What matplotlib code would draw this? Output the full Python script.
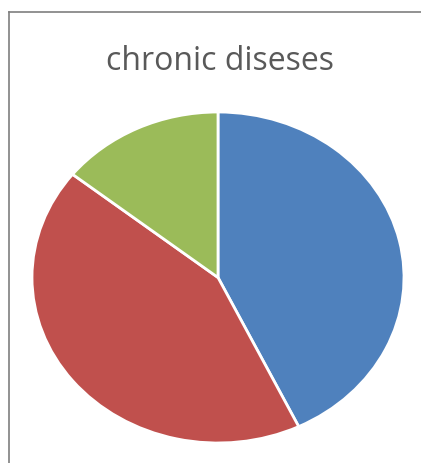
import matplotlib
matplotlib.use("Agg")
import matplotlib.pyplot as plt
from matplotlib.lines import Line2D

# chart data
categories = ["A", "B", "C"]
values = [3, 3, 1]
colors = ["#4F81BD", "#C0504D", "#9BBB59"]
title = "chronic diseses"

W, H = 421, 464
fig = plt.figure(figsize=(W / 100, H / 100), dpi=100)

# chart-area border (only left and top edges are inside the crop)
bx, by = 8.5 / W, 1 - 12.5 / H
fig.add_artist(Line2D([bx, 1.0], [by, by], transform=fig.transFigure, color="#7f7f7f", lw=1.2))
fig.add_artist(Line2D([bx, bx], [0, by], transform=fig.transFigure, color="#7f7f7f", lw=1.2))

# pie is drawn as an ellipse (wider than tall)
ax = fig.add_axes([32 / W, (H - 444) / H, 372 / W, 331 / H])
ax.pie(values, colors=colors, startangle=90, counterclock=False,
       wedgeprops=dict(edgecolor="white", linewidth=2))
ax.set_aspect("auto")
ax.set_xlim(-1, 1)
ax.set_ylim(-1, 1)
ax.axis("off")

fig.text(220 / W, 1 - 61 / H, title, ha="center", va="center",
         fontsize=23, color="#595959", family="Open Sans")

fig.savefig("out.png", dpi=100)
